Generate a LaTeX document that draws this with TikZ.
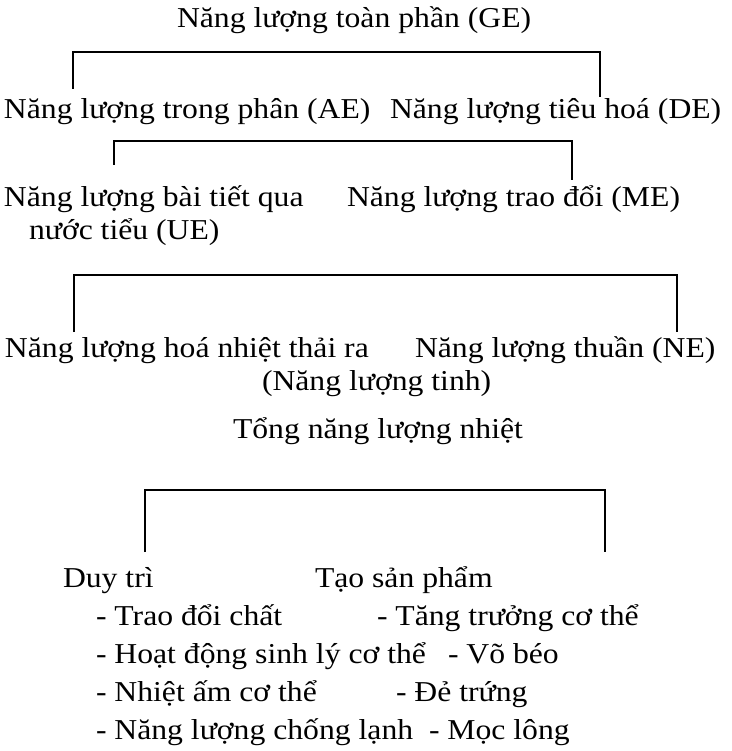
\documentclass[tikz,border=0pt]{standalone}
\usepackage{fontspec}
\setmainfont[FakeStretch=1.1]{Liberation Serif}
\begin{document}
\begin{tikzpicture}[x=1pt,y=-1pt,
  lbl/.style={anchor=base west,inner sep=0pt,outer sep=0pt,font=\fontsize{28.8}{34}\selectfont,text=black},
  brk/.style={draw=black,line width=1.1pt}]
\useasboundingbox (0,0) rectangle (731,751);
% texts
\node[lbl] (ge) at (177,28) {Năng lượng toàn phần (GE)};
\node[lbl] (ae) at (4,119) {Năng lượng trong phân (AE)};
\node[lbl] (de) at (390,119) {Năng lượng tiêu hoá (DE)};
\node[lbl] (ue1) at (4,207) {Năng lượng bài tiết qua};
\node[lbl] (ue2) at (29,239) {nước tiểu (UE)};
\node[lbl] (me) at (347,207) {Năng lượng trao đổi (ME)};
\node[lbl] (heat) at (5,357) {Năng lượng hoá nhiệt thải ra};
\node[lbl] (ne) at (415,357) {Năng lượng thuần (NE)};
\node[lbl] (tinh) at (262,390) {(Năng lượng tinh)};
\node[lbl] (tong) at (233,438) {Tổng năng lượng nhiệt};
\node[lbl] (duy) at (63,587) {Duy trì};
\node[lbl] (tao) at (315,587) {Tạo sản phẩm};
\node[lbl] (l1) at (96,625) {- Trao đổi chất};
\node[lbl] (l2) at (96,663) {- Hoạt động sinh lý cơ thể};
\node[lbl] (l3) at (96,701) {- Nhiệt ấm cơ thể};
\node[lbl] (l4) at (96,739) {- Năng lượng chống lạnh};
\node[lbl] (r1) at (377,625) {- Tăng trưởng cơ thể};
\node[lbl] (r2) at (448,663) {- Võ béo};
\node[lbl] (r3) at (396,701) {- Đẻ trứng};
\node[lbl] (r4) at (429,739) {- Mọc lông};
% bracket corners
\coordinate (b1a) at (73,89);  \coordinate (b1b) at (73,52);
\coordinate (b1c) at (600,52); \coordinate (b1d) at (600,97);
\coordinate (b2a) at (114,165); \coordinate (b2b) at (114,141);
\coordinate (b2c) at (572,141); \coordinate (b2d) at (572,180);
\coordinate (b3a) at (74,332); \coordinate (b3b) at (74,275);
\coordinate (b3c) at (677,275); \coordinate (b3d) at (677,332);
\coordinate (b4a) at (145,552); \coordinate (b4b) at (145,490);
\coordinate (b4c) at (605,490); \coordinate (b4d) at (605,552);
\draw[brk] (b1a) -- (b1b) -- (b1c) -- (b1d);
\draw[brk] (b2a) -- (b2b) -- (b2c) -- (b2d);
\draw[brk] (b3a) -- (b3b) -- (b3c) -- (b3d);
\draw[brk] (b4a) -- (b4b) -- (b4c) -- (b4d);
\end{tikzpicture}
\end{document}
